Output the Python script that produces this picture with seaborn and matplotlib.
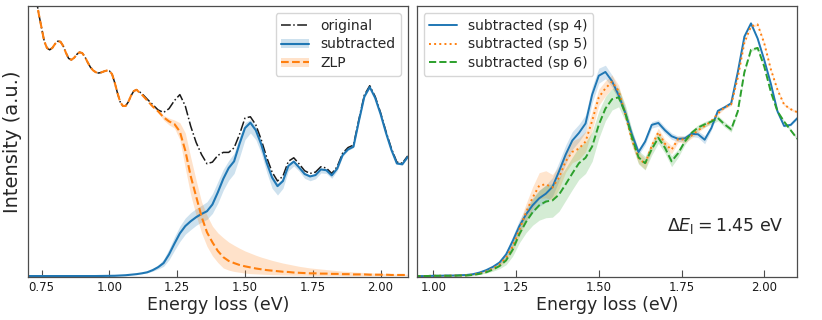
import numpy as np
import matplotlib
matplotlib.use("Agg")
import matplotlib.pyplot as plt
from matplotlib.lines import Line2D
from matplotlib.patches import Patch
import seaborn as sns

# --- left panel data -------------------------------------------------------
# fine grid where original and ZLP coincide (oscillating low-loss part)
e_low = np.round(np.arange(0.70, 1.1001, 0.01), 2)
original_low = [1.22, 1.15, 1.09, 1.03, 0.97, 0.92, 0.87, 0.845, 0.838, 0.845,
                0.860, 0.870, 0.868, 0.852, 0.827, 0.806, 0.801, 0.808, 0.821, 0.829,
                0.826, 0.812, 0.792, 0.774, 0.762, 0.755, 0.752, 0.754, 0.758, 0.761,
                0.760, 0.748, 0.716, 0.678, 0.645, 0.630, 0.630, 0.645, 0.668, 0.685,
                0.690]

e_main = np.round(np.arange(1.12, 2.1001, 0.02), 2)
original = [0.676, 0.655, 0.635, 0.615, 0.606, 0.620, 0.650, 0.672, 0.630, 0.555,
            0.495, 0.450, 0.416, 0.422, 0.447, 0.458, 0.458, 0.475, 0.525, 0.585,
            0.590, 0.560, 0.505, 0.440, 0.385, 0.352, 0.370, 0.425, 0.438, 0.415,
            0.390, 0.380, 0.385, 0.405, 0.400, 0.380, 0.405, 0.455, 0.476, 0.485,
            0.580, 0.670, 0.705, 0.665, 0.605, 0.535, 0.472, 0.422, 0.418, 0.445]

sub_pre_e = [0.70, 0.95, 1.02, 1.06, 1.10]
sub_pre = [0.0, 0.0, 0.001, 0.003, 0.007]
subtracted = [0.010, 0.014, 0.022, 0.033, 0.048, 0.080, 0.120, 0.158, 0.185, 0.203,
              0.218, 0.230, 0.240, 0.265, 0.310, 0.360, 0.400, 0.425, 0.490, 0.548,
              0.568, 0.540, 0.488, 0.420, 0.365, 0.333, 0.352, 0.408, 0.424, 0.402,
              0.378, 0.369, 0.374, 0.395, 0.392, 0.373, 0.398, 0.448, 0.469, 0.479,
              0.574, 0.664, 0.700, 0.660, 0.600, 0.530, 0.467, 0.417, 0.414, 0.441]
sub_lo = [0.009, 0.012, 0.018, 0.026, 0.036, 0.060, 0.095, 0.128, 0.155, 0.172,
          0.188, 0.200, 0.210, 0.232, 0.270, 0.318, 0.355, 0.380, 0.440, 0.505,
          0.530, 0.505, 0.455, 0.385, 0.325, 0.300, 0.325, 0.390, 0.408, 0.388,
          0.362, 0.353, 0.360, 0.382, 0.380, 0.362, 0.390, 0.443, 0.465, 0.476,
          0.571, 0.661, 0.697, 0.657, 0.597, 0.527, 0.464, 0.414, 0.411, 0.438]
sub_hi = [0.011, 0.016, 0.026, 0.040, 0.062, 0.100, 0.145, 0.185, 0.215, 0.235,
          0.250, 0.262, 0.275, 0.305, 0.350, 0.395, 0.428, 0.455, 0.515, 0.568,
          0.580, 0.555, 0.500, 0.432, 0.375, 0.345, 0.362, 0.415, 0.430, 0.407,
          0.383, 0.374, 0.378, 0.399, 0.396, 0.377, 0.401, 0.451, 0.472, 0.482,
          0.577, 0.667, 0.703, 0.663, 0.603, 0.533, 0.470, 0.420, 0.417, 0.444]

zlp = [0.672, 0.650, 0.628, 0.610, 0.588, 0.573, 0.563, 0.535, 0.465, 0.370,
       0.295, 0.220, 0.162, 0.125, 0.093, 0.070, 0.056, 0.048, 0.041, 0.036,
       0.032, 0.028, 0.025, 0.022, 0.020, 0.018, 0.016, 0.015, 0.013, 0.012,
       0.011, 0.010, 0.010, 0.009, 0.009, 0.008, 0.008, 0.007, 0.007, 0.006,
       0.006, 0.006, 0.005, 0.005, 0.005, 0.005, 0.004, 0.004, 0.004, 0.004]
zlp_lo = [0.672, 0.650, 0.626, 0.606, 0.578, 0.560, 0.548, 0.505, 0.400, 0.300,
          0.225, 0.160, 0.110, 0.075, 0.050, 0.030, 0.022, 0.017, 0.014, 0.011,
          0.009, 0.008, 0.007, 0.006, 0.005, 0.005, 0.004, 0.004, 0.003, 0.003,
          0.003, 0.002, 0.002, 0.002, 0.002, 0.002, 0.002, 0.002, 0.001, 0.001,
          0.001, 0.001, 0.001, 0.001, 0.001, 0.001, 0.001, 0.001, 0.001, 0.001]
zlp_hi = [0.672, 0.650, 0.630, 0.614, 0.595, 0.585, 0.578, 0.568, 0.530, 0.440,
          0.355, 0.275, 0.225, 0.185, 0.160, 0.142, 0.126, 0.114, 0.103, 0.093,
          0.085, 0.077, 0.070, 0.064, 0.058, 0.053, 0.048, 0.044, 0.040, 0.036,
          0.033, 0.030, 0.028, 0.026, 0.024, 0.022, 0.020, 0.018, 0.017, 0.015,
          0.014, 0.013, 0.012, 0.011, 0.010, 0.009, 0.008, 0.008, 0.007, 0.007]

# --- right panel data ------------------------------------------------------
e_right = np.round(np.arange(0.94, 2.1001, 0.02), 2)
sp4 = [0.000, 0.000, 0.000, 0.001, 0.001, 0.002, 0.002, 0.003,
       0.004, 0.007, 0.013, 0.022, 0.034, 0.050, 0.080, 0.130, 0.185, 0.228,
       0.262, 0.288, 0.305, 0.330, 0.388, 0.450, 0.502, 0.530, 0.565, 0.672,
       0.742, 0.756, 0.722, 0.670, 0.605, 0.525, 0.459, 0.498, 0.560, 0.567,
       0.540, 0.518, 0.508, 0.510, 0.527, 0.525, 0.505, 0.548, 0.612, 0.625,
       0.640, 0.755, 0.887, 0.936, 0.880, 0.800, 0.712, 0.610, 0.556, 0.560, 0.585]
sp5 = [0.000, 0.000, 0.000, 0.001, 0.001, 0.001, 0.002, 0.002,
       0.003, 0.005, 0.010, 0.017, 0.028, 0.043, 0.068, 0.110, 0.172, 0.235,
       0.290, 0.335, 0.340, 0.328, 0.365, 0.425, 0.460, 0.472, 0.498, 0.575,
       0.662, 0.695, 0.720, 0.685, 0.600, 0.505, 0.438, 0.415, 0.482, 0.533,
       0.490, 0.468, 0.508, 0.505, 0.520, 0.540, 0.556, 0.574, 0.602, 0.625,
       0.635, 0.735, 0.865, 0.925, 0.932, 0.862, 0.765, 0.690, 0.635, 0.618, 0.607]
sp6 = [0.000, 0.000, 0.000, 0.001, 0.001, 0.001, 0.001, 0.002,
       0.002, 0.004, 0.008, 0.014, 0.024, 0.037, 0.058, 0.098, 0.155, 0.200,
       0.236, 0.262, 0.276, 0.280, 0.302, 0.340, 0.380, 0.418, 0.438, 0.480,
       0.560, 0.620, 0.655, 0.662, 0.605, 0.515, 0.440, 0.418, 0.470, 0.512,
       0.475, 0.425, 0.455, 0.498, 0.530, 0.550, 0.562, 0.572, 0.585, 0.562,
       0.543, 0.610, 0.755, 0.838, 0.845, 0.776, 0.682, 0.610, 0.572, 0.540, 0.508]
sp4_err = [0.001, 0.001, 0.001, 0.001, 0.001, 0.001, 0.001, 0.001, 0.002, 0.002, 0.002, 0.003,
           0.005, 0.008, 0.012, 0.018, 0.022, 0.025, 0.028, 0.030, 0.032, 0.035,
           0.035, 0.035, 0.033, 0.032, 0.032, 0.030, 0.028, 0.025, 0.022, 0.020,
           0.018, 0.015, 0.012, 0.012, 0.012, 0.012, 0.012, 0.012, 0.010, 0.010,
           0.010, 0.012, 0.015, 0.008, 0.005, 0.005, 0.004, 0.004, 0.004, 0.004,
           0.004, 0.004, 0.004, 0.004, 0.004, 0.004, 0.004]
sp5_err = [0.001, 0.001, 0.001, 0.001, 0.001, 0.001, 0.001, 0.001, 0.002, 0.002, 0.002, 0.003,
           0.005, 0.008, 0.012, 0.018, 0.025, 0.032, 0.040, 0.048, 0.050, 0.048,
           0.042, 0.040, 0.040, 0.040, 0.038, 0.035, 0.030, 0.028, 0.025, 0.022,
           0.020, 0.020, 0.020, 0.020, 0.018, 0.015, 0.015, 0.015, 0.012, 0.012,
           0.010, 0.008, 0.006, 0.005, 0.005, 0.005, 0.004, 0.004, 0.004, 0.004,
           0.004, 0.004, 0.004, 0.004, 0.004, 0.004, 0.004]
sp6_err = [0.001, 0.001, 0.001, 0.001, 0.001, 0.001, 0.001, 0.001, 0.002, 0.002, 0.002, 0.003,
           0.006, 0.010, 0.016, 0.024, 0.032, 0.040, 0.048, 0.055, 0.060, 0.062,
           0.062, 0.060, 0.060, 0.060, 0.058, 0.055, 0.050, 0.045, 0.040, 0.035,
           0.030, 0.028, 0.025, 0.025, 0.022, 0.020, 0.020, 0.020, 0.015, 0.012,
           0.010, 0.010, 0.010, 0.010, 0.010, 0.010, 0.010, 0.006, 0.005, 0.005,
           0.005, 0.005, 0.005, 0.005, 0.005, 0.005, 0.005]

spectra_labels = ["subtracted (sp 4)", "subtracted (sp 5)", "subtracted (sp 6)"]

# --- plotting ---------------------------------------------------------------
sns.set_theme(style="ticks")
plt.rcParams["font.family"] = ["DejaVu Sans"]
plt.rcParams["axes.edgecolor"] = "0.3"
plt.rcParams["axes.linewidth"] = 0.9

blue, orange, green = sns.color_palette("tab10")[:3]
smooth = dict(solid_joinstyle="round", dash_joinstyle="round")

fig = plt.figure(figsize=(8.22, 3.2), dpi=100)
ax1 = fig.add_axes([0.034, 0.134, 0.462, 0.847])
ax2 = fig.add_axes([0.507, 0.134, 0.463, 0.847])

# left: original, subtracted, ZLP
e_orig = np.concatenate([e_low, e_main])
sns.lineplot(x=e_orig, y=original_low + original, ax=ax1, color="k",
             linestyle="-.", linewidth=1.1, errorbar=None, **smooth)
ax1.fill_between(e_main, sub_lo, sub_hi, color=blue, alpha=0.22, linewidth=0)
sns.lineplot(x=np.concatenate([sub_pre_e, e_main]), y=sub_pre + subtracted, ax=ax1,
             color=blue, linewidth=1.5, errorbar=None, **smooth)
ax1.fill_between(e_main, zlp_lo, zlp_hi, color=orange, alpha=0.22, linewidth=0)
sns.lineplot(x=e_orig, y=original_low + zlp, ax=ax1, color=orange,
             linestyle="--", linewidth=1.5, errorbar=None, **smooth)

handles = [Line2D([], [], color="k", linestyle="-.", linewidth=1.1),
           (Patch(facecolor=blue, alpha=0.22, linewidth=0), Line2D([], [], color=blue, linewidth=1.5)),
           (Patch(facecolor=orange, alpha=0.22, linewidth=0), Line2D([], [], color=orange, linestyle="--", linewidth=1.5))]
ax1.legend(handles, ["original", "subtracted", "ZLP"], loc="upper right", fontsize=10,
           labelspacing=0.35)

ax1.set_xlim(0.7, 2.1)
ax1.set_ylim(-0.004, 1.0)
ax1.set_xticks([0.75, 1.00, 1.25, 1.50, 1.75, 2.00])
ax1.set_xlabel("Energy loss (eV)", fontsize=12.5, labelpad=1)
ax1.set_ylabel("Intensity (a.u.)", fontsize=14, labelpad=4)

# right: three spectra
for vals, err, col, ls, lab in zip([sp4, sp5, sp6], [sp4_err, sp5_err, sp6_err],
                                   [blue, orange, green], ["-", ":", "--"], spectra_labels):
    vals = np.array(vals)
    err = np.array(err)
    ax2.fill_between(e_right, vals - err, vals + err, color=col, alpha=0.2, linewidth=0)
    sns.lineplot(x=e_right, y=vals, ax=ax2, color=col, linestyle=ls, linewidth=1.4,
                 errorbar=None, label=lab, **smooth)

ax2.legend(loc="upper left", fontsize=10, labelspacing=0.35)
ax2.text(0.965, 0.19, r"$\Delta E_{\mathrm{l}} = 1.45$ eV", transform=ax2.transAxes,
         ha="right", va="center", fontsize=12.5)
ax2.set_xlim(0.95, 2.1)
ax2.set_ylim(-0.004, 1.0)
ax2.set_xticks([1.00, 1.25, 1.50, 1.75, 2.00])
ax2.set_xlabel("Energy loss (eV)", fontsize=12.5, labelpad=1)
ax2.set_ylabel("")

for ax in (ax1, ax2):
    ax.set_yticks([])
    ax.tick_params(axis="x", direction="in", length=5, width=0.8, color="0.3",
                   labelsize=8.5, pad=3, labelcolor="k")

fig.savefig("out.png", dpi=100)
